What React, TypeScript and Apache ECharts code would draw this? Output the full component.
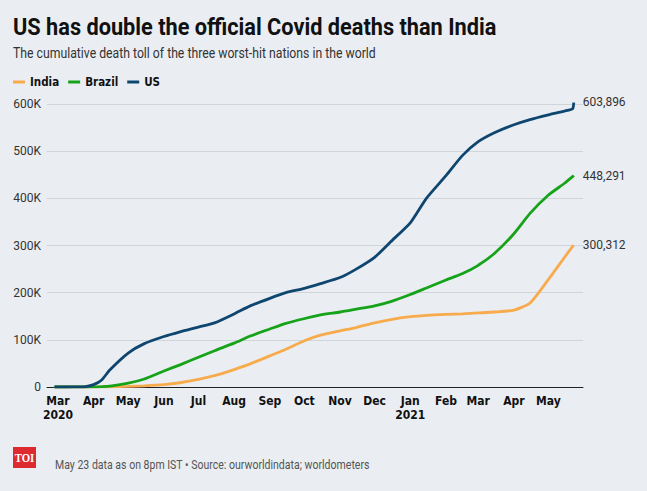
import React, { useEffect, useRef } from "react";
import * as echarts from "echarts";

const dates: string[] = [
  "2020-02-27", "2020-03-01", "2020-03-15", "2020-03-25", "2020-04-01", "2020-04-08", "2020-04-15",
  "2020-05-01", "2020-05-15", "2020-06-01", "2020-06-15", "2020-07-01", "2020-07-15",
  "2020-08-01", "2020-08-15", "2020-09-01", "2020-09-15", "2020-10-01", "2020-10-15",
  "2020-11-01", "2020-11-15", "2020-12-01", "2020-12-15", "2021-01-01", "2021-01-15",
  "2021-02-01", "2021-02-15", "2021-03-01", "2021-03-15", "2021-04-01", "2021-04-15",
  "2021-05-01", "2021-05-15", "2021-05-22", "2021-05-23",
];

const usValues: number[] = [
  0, 0, 100, 1000, 5000, 15000, 36000,
  72000, 92000, 107000, 117000, 127000, 136000,
  155000, 172000, 188000, 200000, 209000, 219000,
  232000, 250000, 275000, 308000, 348000, 400000,
  448000, 490000, 520000, 539000, 556000, 567000,
  577000, 585000, 590000, 603896,
];

const brazilValues: number[] = [
  0, 0, 0, 50, 200, 800, 1800,
  8000, 17000, 34000, 47000, 63000, 77000,
  93000, 108000, 123000, 135000, 145000, 153000,
  159000, 165000, 172000, 181000, 196000, 210000,
  227000, 240000, 258000, 283000, 325000, 368000,
  407000, 432000, 446000, 448291,
];

const indiaValues: number[] = [
  0, 0, 0, 0, 50, 150, 400,
  1200, 2500, 5000, 9000, 16000, 24000,
  37000, 49000, 66000, 80000, 98000, 110000,
  119000, 126000, 136000, 143000, 149000, 152000,
  154000, 155000, 157000, 159000, 163000, 178000,
  228000, 275000, 298000, 300312,
];

const monthTicks: string[] = [
  "2020-03-01", "2020-04-01", "2020-05-01", "2020-06-01", "2020-07-01", "2020-08-01",
  "2020-09-01", "2020-10-01", "2020-11-01", "2020-12-01", "2021-01-01", "2021-02-01",
  "2021-03-01", "2021-04-01", "2021-05-01",
];
const monthNames = ["Jan", "Feb", "Mar", "Apr", "May", "Jun", "Jul", "Aug", "Sep", "Oct", "Nov", "Dec"];

const titleText = "US has double the official Covid deaths than India";
const subtitleText = "The cumulative death toll of the three worst-hit nations in the world";
const footerText = "May 23 data as on 8pm IST \u2022 Source: ourworldindata; worldometers";

const ts = (d: string) => {
  const [y, m, dd] = d.split("-").map(Number);
  return Date.UTC(y, m - 1, dd);
};

const pairs = (vals: number[]) => dates.map((d, i) => [ts(d), vals[i]]);

const COND = '"DejaVu Sans Condensed", "Roboto", sans-serif';

const measure = (text: string, font: string) => {
  const c = document.createElement("canvas").getContext("2d");
  if (!c) return 0;
  c.font = font;
  return c.measureText(text).width;
};

export default function App() {
  const ref = useRef<HTMLDivElement>(null);
  useEffect(() => {
    document.body.style.margin = "0";
    const chart = echarts.init(ref.current!, null, { renderer: "svg" });
    const fmt = (v: number) => v.toLocaleString("en-US");

    const titleW = measure(titleText, "bold 24px Roboto") || 560;
    const subW = measure(subtitleText, "14px Roboto") || 440;
    const footW = measure(footerText, "12px Roboto") || 380;

    const mkSeries = (name: string, vals: number[], color: string) => ({
      name,
      type: "line",
      data: pairs(vals),
      showSymbol: false,
      smooth: 0.2,
      lineStyle: { width: 2.8, color },
      itemStyle: { color },
      endLabel: {
        show: true,
        formatter: (p: any) => fmt(p.value[1]),
        color: "#333",
        fontSize: 12,
        fontFamily: "Roboto, sans-serif",
        distance: 9,
      },
    });
    chart.setOption({
      animation: false,
      backgroundColor: "#eaeef2",
      legend: {
        left: 13,
        top: 76,
        padding: 0,
        icon: "rect",
        itemWidth: 12,
        itemHeight: 3,
        itemGap: 9,
        textStyle: { fontSize: 11.5, fontWeight: "bold", color: "#111", fontFamily: COND },
        data: ["India", "Brazil", "US"],
      },
      grid: { left: 47, right: 64, top: 104, bottom: 104 },
      xAxis: {
        type: "value",
        min: Date.UTC(2020, 1, 20, 12),
        max: Date.UTC(2021, 4, 31),
        axisLine: { show: true, onZero: false, lineStyle: { color: "#222", width: 1 } },
        axisTick: { show: false },
        splitLine: { show: false },
        axisLabel: {
          customValues: monthTicks.map(ts),
          margin: 7,
          color: "#111",
          fontSize: 12,
          fontWeight: "bold",
          fontFamily: COND,
          lineHeight: 14,
          formatter: (v: number) => {
            const d = new Date(v);
            const m = d.getUTCMonth();
            const y = d.getUTCFullYear();
            const first = (y === 2020 && m === 2) || m === 0;
            return monthNames[m] + (first ? "\n" + y : "");
          },
        },
      },
      yAxis: {
        type: "value",
        min: 0,
        max: 600000,
        interval: 100000,
        axisLine: { show: false },
        axisTick: { show: false },
        splitLine: { lineStyle: { color: "#d0d5da", width: 1 } },
        axisLabel: {
          color: "#333",
          fontSize: 12,
          margin: 6,
          fontFamily: "Roboto, sans-serif",
          formatter: (v: number) => (v === 0 ? "0" : v / 1000 + "K"),
        },
      },
      series: [
        mkSeries("India", indiaValues, "#f7ab4c"),
        mkSeries("Brazil", brazilValues, "#16a31a"),
        mkSeries("US", usValues, "#0e4670"),
      ],
      graphic: [
        {
          type: "text",
          x: 13,
          y: 27,
          scaleX: 484 / titleW,
          style: {
            text: titleText,
            fill: "#111",
            fontSize: 24,
            fontWeight: "bold",
            fontFamily: "Roboto",
            verticalAlign: "middle",
          },
        },
        {
          type: "text",
          x: 13,
          y: 53,
          scaleX: 363 / subW,
          style: {
            text: subtitleText,
            fill: "#333",
            fontSize: 14,
            fontFamily: "Roboto",
            verticalAlign: "middle",
          },
        },
        {
          type: "rect",
          shape: { x: 13, y: 447, width: 23, height: 21 },
          style: { fill: "#dd2a2f" },
        },
        {
          type: "text",
          x: 24.5,
          y: 458,
          scaleX: 0.9,
          style: {
            text: "TOI",
            fill: "#fff",
            fontSize: 12,
            fontWeight: "bold",
            fontFamily: '"Liberation Serif", serif',
            align: "center",
            verticalAlign: "middle",
          },
        },
        {
          type: "text",
          x: 55,
          y: 465,
          scaleX: 315 / footW,
          style: {
            text: footerText,
            fill: "#555",
            fontSize: 12,
            fontFamily: "Roboto",
            verticalAlign: "middle",
          },
        },
      ],
    });
    return () => chart.dispose();
  }, []);
  return <div ref={ref} style={{ position: "fixed", left: 0, top: 0, width: 647, height: 491 }} />;
}
